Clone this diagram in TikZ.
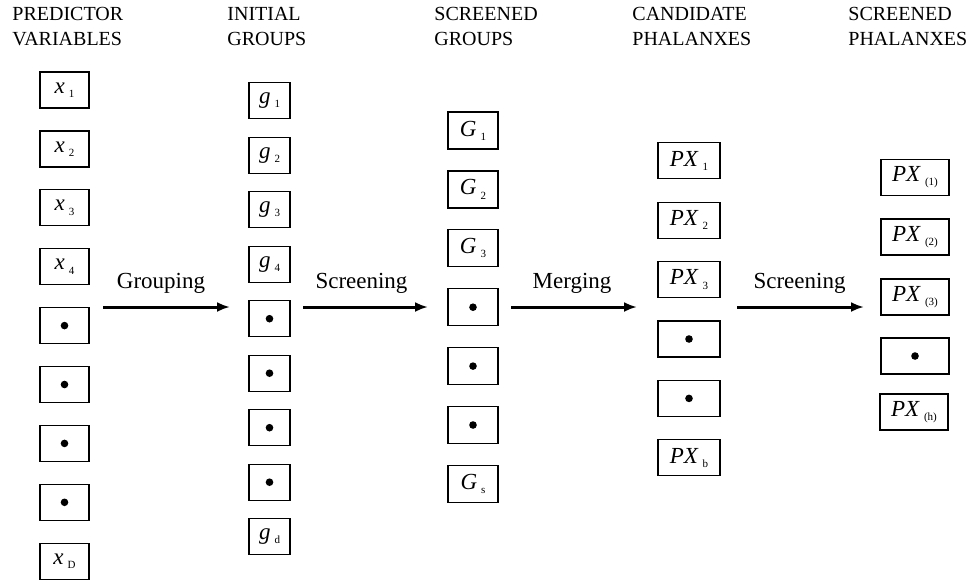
\documentclass[tikz,border=0pt]{standalone}
\usepackage{fontspec}
\setmainfont{Liberation Serif}
\usepackage{tikz}
\usetikzlibrary{arrows.meta}

\newcommand{\boxlab}[2]{\textit{#1}\hspace{2pt}\raisebox{-0.4ex}{\fontsize{5.5}{6}\selectfont #2}}

\tikzset{
  vbox/.style={draw, line width=0.65pt, inner sep=0pt, minimum height=18pt,
    font=\fontsize{11.5}{12}\selectfont},
  head/.style={anchor=base west, align=left, inner sep=0pt,
    font=\fontsize{10}{12.5}\selectfont},
  steplab/.style={anchor=base, inner sep=0pt, font=\fontsize{11.5}{13}\selectfont},
  flow/.style={line width=1.5pt, -{Latex[length=6.5pt,width=5pt]}}
}

\begin{document}
\begin{tikzpicture}[x=0.5pt,y=-0.5pt]

\useasboundingbox (0,0) rectangle (968,579);

\node [head] (hpv) at (12,45)  {PREDICTOR\\VARIABLES};
\node [head] (hig) at (227,45) {INITIAL\\GROUPS};
\node [head] (hsg) at (434,45) {SCREENED\\GROUPS};
\node [head] (hcp) at (632,45) {CANDIDATE\\PHALANXES};
\node [head] (hsp) at (848,45) {SCREENED\\PHALANXES};

\foreach \i/\s in {0/1,1/2,2/3,3/4,8/D}
    \node [vbox, minimum width=24.5pt] (pv\i) at (64.5,{90+58.9*\i}) {\boxlab{x}{\s}};
\foreach \i in {4,...,7}{
    \node [vbox, minimum width=24.5pt] (pv\i) at (64.5,{90+58.9*\i}) {};
    \fill (pv\i) circle (1.9pt);
}

\foreach \i/\s in {0/1,1/2,2/3,3/4,8/d}
    \node [vbox, minimum width=20.5pt] (ig\i) at (269.5,{100.7+54.5*\i}) {\boxlab{g}{\s}};
\foreach \i in {4,...,7}{
    \node [vbox, minimum width=20.5pt] (ig\i) at (269.5,{100.7+54.5*\i}) {};
    \fill (ig\i) circle (1.9pt);
}

\foreach \i/\s in {0/1,1/2,2/3,6/s}
    \node [vbox, minimum width=25pt, minimum height=18.5pt] (sg\i) at (473,{130.5+58.9*\i}) {\boxlab{G}{\s}};
\foreach \i in {3,4,5}{
    \node [vbox, minimum width=25pt, minimum height=18.5pt] (sg\i) at (473,{130.5+58.9*\i}) {};
    \fill (sg\i) circle (1.9pt);
}

\foreach \i/\s in {0/1,1/2,2/3,5/b}
    \node [vbox, minimum width=31pt] (cp\i) at (689,{160.8+59.4*\i}) {\boxlab{PX}{\s}};
\foreach \i in {3,4}{
    \node [vbox, minimum width=31pt] (cp\i) at (689,{160.8+59.4*\i}) {};
    \fill (cp\i) circle (1.9pt);
}

\node [vbox, minimum width=34pt] (sp0) at (915,177.5) {\boxlab{PX}{(1)}};
\node [vbox, minimum width=34pt] (sp1) at (915,237)   {\boxlab{PX}{(2)}};
\node [vbox, minimum width=34pt] (sp2) at (915,297)   {\boxlab{PX}{(3)}};
\node [vbox, minimum width=34pt] (sp3) at (915,356)   {};
\fill (sp3) circle (1.9pt);
\node [vbox, minimum width=34pt] (sp4) at (914,412)   {\boxlab{PX}{(h)}};

\coordinate (grpA) at (103,307);
\coordinate (grpB) at (230,307);
\coordinate (scrA) at (303,307);
\coordinate (scrB) at (428,307);
\coordinate (mrgA) at (511,307);
\coordinate (mrgB) at (637,307);
\coordinate (phsA) at (737,307);
\coordinate (phsB) at (864,307);

\draw [flow] (grpA) -- (grpB);
\draw [flow] (scrA) -- (scrB);
\draw [flow] (mrgA) -- (mrgB);
\draw [flow] (phsA) -- (phsB);

\node [steplab] (lgrp) at (161,288)   {Grouping};
\node [steplab] (lscr) at (361.5,288) {Screening};
\node [steplab] (lmrg) at (572,288)   {Merging};
\node [steplab] (lphs) at (799.5,288) {Screening};

\end{tikzpicture}
\end{document}
